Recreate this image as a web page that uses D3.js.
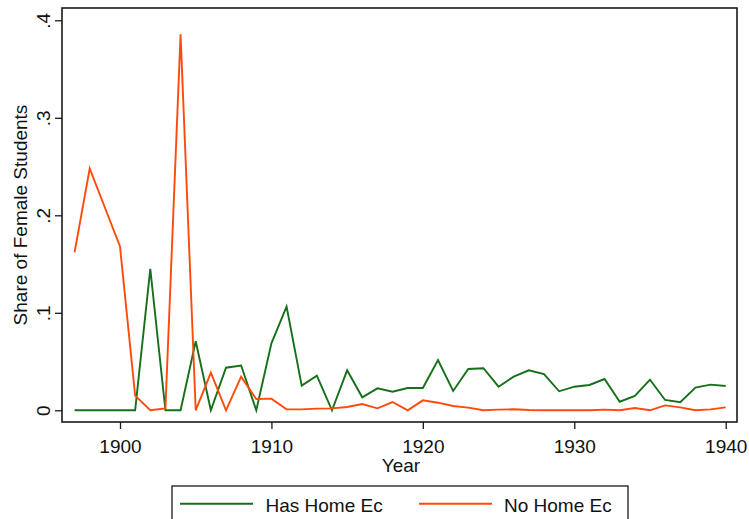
<!DOCTYPE html>
<html>
<head>
<meta charset="utf-8">
<script src="https://cdn.jsdelivr.net/npm/d3@7"></script>
<style>
  body { margin: 0; background: #fff; }
  svg { display: block; }
  text { font-family: "Liberation Sans", Arial, sans-serif; fill: #111; }
</style>
</head>
<body>
<svg id="chart" width="749" height="519"></svg>
<script>
const years = d3.range(1897, 1941);
const hasHomeEc = [0, 0, 0, 0, 0, 0.145, 0, 0, 0.0708, 0, 0.0437, 0.046, 0, 0.0687, 0.1063,
  0.0253, 0.0355, 0, 0.041, 0.0133, 0.0225, 0.019, 0.0229, 0.0229, 0.0516, 0.0198, 0.0424, 0.0432,
  0.0242, 0.0345, 0.041, 0.0372, 0.0195, 0.0242, 0.026, 0.0321, 0.0088, 0.0147, 0.0314, 0.0106,
  0.0082, 0.0232, 0.0263, 0.0249];
const noHomeEc = [0.162, 0.248, 0.208, 0.168, 0.015, 0, 0.002, 0.3856, 0, 0.0386, 0, 0.0345, 0.0116,
  0.012, 0.001, 0.001, 0.0017, 0.002, 0.0034, 0.0065, 0.002, 0.0085, 0, 0.0102, 0.0078, 0.0044,
  0.0027, 0, 0.0007, 0.001, 0.0003, 0, 0, 0, 0, 0.0007, 0, 0.0024, 0, 0.005, 0.003, 0, 0.001, 0.003];
const xTicks = [1900, 1910, 1920, 1930, 1940];
const yTicks = [0, 0.1, 0.2, 0.3, 0.4];
const yTickLabels = ["0", ".1", ".2", ".3", ".4"];
const seriesNames = ["Has Home Ec", "No Home Ec"];
const seriesColors = ["#16701a", "#ff4a0a"];

const svg = d3.select("#chart");
const frame = { left: 62, right: 737, top: 8, bottom: 422 };
const x = d3.scaleLinear().domain([1900, 1940]).range([120, 725.7]);
const y = d3.scaleLinear().domain([0, 0.4]).range([410.3, 20.3]);
const fontSize = 19;

// lines
const line = d3.line().x(d => x(d[0])).y(d => y(d[1]));
[hasHomeEc, noHomeEc].forEach((vals, i) => {
  svg.append("path")
    .datum(years.map((yr, j) => [yr, vals[j]]))
    .attr("d", line)
    .attr("fill", "none")
    .attr("stroke", seriesColors[i])
    .attr("stroke-width", 1.9)
    .attr("stroke-linejoin", "miter");
});

// frame
svg.append("rect")
  .attr("x", frame.left).attr("y", frame.top)
  .attr("width", frame.right - frame.left).attr("height", frame.bottom - frame.top)
  .attr("fill", "none").attr("stroke", "#1a1a1a").attr("stroke-width", 1.6);

// x axis
const xAxis = svg.append("g")
  .attr("transform", `translate(0,${frame.bottom})`)
  .call(d3.axisBottom(x).tickValues(xTicks).tickFormat(d3.format("d")).tickSize(7).tickSizeOuter(0));
xAxis.select(".domain").remove();
xAxis.selectAll(".tick line").attr("stroke", "#1a1a1a").attr("stroke-width", 1.3);
xAxis.selectAll(".tick text")
  .attr("y", 30.7).attr("dy", null)
  .style("font-size", fontSize + "px")
  .style("font-family", '"Liberation Sans", Arial, sans-serif')
  .attr("fill", "#111");

// y axis
const yAxis = svg.append("g")
  .attr("transform", `translate(${frame.left},0)`)
  .call(d3.axisLeft(y).tickValues(yTicks).tickFormat((d, i) => yTickLabels[i]).tickSize(7).tickSizeOuter(0));
yAxis.select(".domain").remove();
yAxis.selectAll(".tick line").attr("stroke", "#1a1a1a").attr("stroke-width", 1.3);
yAxis.selectAll(".tick text")
  .attr("x", null).attr("dy", null)
  .attr("transform", "translate(-12,0) rotate(-90)")
  .attr("text-anchor", "middle")
  .style("font-size", fontSize + "px")
  .style("font-family", '"Liberation Sans", Arial, sans-serif')
  .attr("fill", "#111");

// axis titles
svg.append("text")
  .attr("x", 401).attr("y", 472)
  .attr("text-anchor", "middle")
  .style("font-size", fontSize + "px")
  .text("Year");
svg.append("text")
  .attr("transform", `translate(27,${(frame.top + frame.bottom) / 2}) rotate(-90)`)
  .attr("text-anchor", "middle")
  .style("font-size", fontSize + "px")
  .text("Share of Female Students");

// legend
svg.append("rect")
  .attr("x", 172).attr("y", 486).attr("width", 456).attr("height", 50)
  .attr("fill", "#fff").attr("stroke", "#1a1a1a").attr("stroke-width", 1.3);
const legendItems = [
  { x1: 180, x2: 253, tx: 265.5 },
  { x1: 419, x2: 492, tx: 504 }
];
legendItems.forEach((it, i) => {
  svg.append("line")
    .attr("x1", it.x1).attr("x2", it.x2).attr("y1", 503.7).attr("y2", 503.7)
    .attr("stroke", seriesColors[i]).attr("stroke-width", 1.9);
  svg.append("text")
    .attr("x", it.tx).attr("y", 511.7)
    .style("font-size", fontSize + "px")
    .text(seriesNames[i]);
});
</script>
</body>
</html>
